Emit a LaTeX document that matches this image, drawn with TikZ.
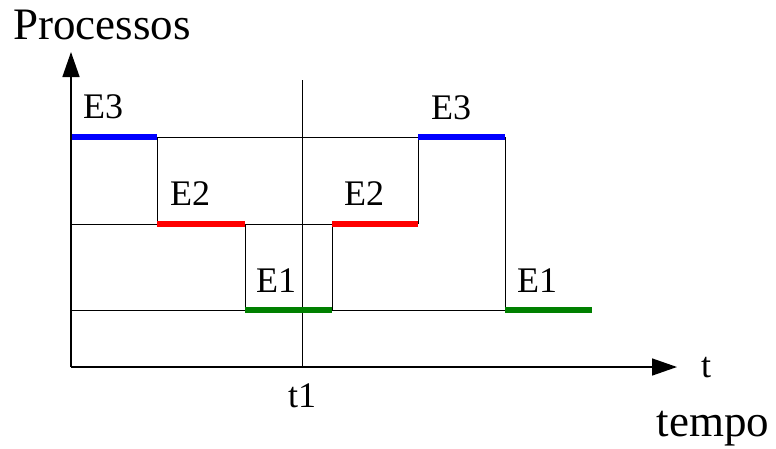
\documentclass[tikz,border=0pt]{standalone}
\usepackage{fontspec}
\setmainfont{Liberation Serif}
\usetikzlibrary{arrows.meta}
\begin{document}
\begin{tikzpicture}[x=1pt,y=-1pt,
  thinline/.style={draw=black,line width=0.8pt},
  axisline/.style={draw=black,line width=1.5pt,-{Triangle[length=25pt,width=17pt]}},
  bar/.style={line width=5.5pt},
  lbl/.style={inner sep=0pt,anchor=base,font=\fontsize{36}{40}\selectfont},
  biglbl/.style={inner sep=0pt,font=\fontsize{45}{52}\selectfont}]
\useasboundingbox (0,0) rectangle (776,448);
\definecolor{barblue}{RGB}{0,0,255}
\definecolor{barred}{RGB}{255,0,0}
\definecolor{bargreen}{RGB}{0,128,0}
% named coordinates
\coordinate (O) at (71,367);
\coordinate (Ytop) at (71,52);
\coordinate (Xend) at (677,367);
\coordinate (T1top) at (302,80);
\coordinate (T1bot) at (302,367);
% thin step lines
\draw[thinline] (157,137) -- (418,137);
\draw[thinline] (71,224) -- (157,224);
\draw[thinline] (245,224) -- (332,224);
\draw[thinline] (71,310) -- (245,310);
\draw[thinline] (332,310) -- (505,310);
\draw[thinline] (157,137) -- (157,224);
\draw[thinline] (245,224) -- (245,310);
\draw[thinline] (332,224) -- (332,310);
\draw[thinline] (418,137) -- (418,224);
\draw[thinline] (505,137) -- (505,310);
\draw[thinline] (T1top) -- (T1bot);
% coloured bars
\draw[bar,barblue] (71,137) -- (157,137);
\draw[bar,barblue] (418,137) -- (505,137);
\draw[bar,barred] (157,224) -- (245,224);
\draw[bar,barred] (332,224) -- (418,224);
\draw[bar,bargreen] (245,310) -- (332,310);
\draw[bar,bargreen] (505,310) -- (592,310);
% axes
\draw[axisline] (O) -- (Ytop);
\draw[axisline] (O) -- (Xend);
% labels
\node[biglbl,anchor=base west] (proc) at (13,39) {Processos};
\node[biglbl,anchor=base] (tempo) at (713,436) {tempo};
\node[lbl,anchor=base west] (tl) at (701,377) {t};
\node[lbl] (t1) at (302,407) {t1};
\node[lbl] (e3a) at (103,118) {E3};
\node[lbl] (e2a) at (190,205) {E2};
\node[lbl] (e1a) at (276,292) {E1};
\node[lbl] (e2b) at (364,205) {E2};
\node[lbl] (e3b) at (451,119) {E3};
\node[lbl] (e1b) at (537,292) {E1};
\end{tikzpicture}
\end{document}
